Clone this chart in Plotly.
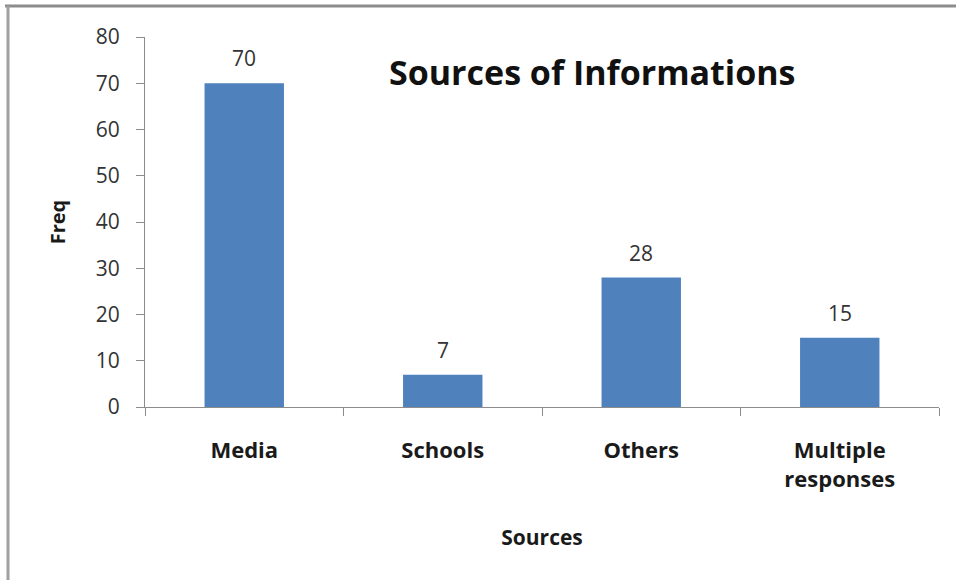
import plotly.graph_objects as go

categories = ["Media", "Schools", "Others", "Multiple<br>responses"]
freq = [70, 7, 28, 15]
y_ticks = [0, 10, 20, 30, 40, 50, 60, 70, 80]

FONT = "Open Sans"

fig = go.Figure()
fig.add_trace(go.Bar(
    x=categories, y=freq, width=0.4,
    marker=dict(color="#4F81BD", line=dict(width=0)),
    showlegend=False, hoverinfo="x+y",
))

for c, v in zip(categories, freq):
    fig.add_annotation(x=c, y=v, text=str(v), showarrow=False,
                       yanchor="bottom", yshift=9,
                       font=dict(family=FONT, size=21, color="#333"))

fig.add_annotation(xref="paper", yref="paper", x=(592 - 145) / 794, y=1 - (72 - 37) / 370,
                   text="<b>Sources of Informations</b>", showarrow=False,
                   xanchor="center", yanchor="middle",
                   font=dict(family=FONT, size=34, color="#111"))

# outer frame (top and left edges visible in the reference)
fig.add_shape(type="line", xref="paper", yref="paper",
              x0=-140/794, x1=(960-145)/794, y0=1 + 31/370, y1=1 + 31/370,
              line=dict(color="#8c8c8c", width=3))
fig.add_shape(type="line", xref="paper", yref="paper",
              x0=-137/794, x1=-137/794, y0=-180/370, y1=1 + 31/370,
              line=dict(color="#a0a0a0", width=3))

fig.update_layout(
    width=956, height=580,
    margin=dict(l=145, r=17, t=37, b=173),
    paper_bgcolor="white", plot_bgcolor="white",
    font=dict(family=FONT, color="#333"),
    xaxis=dict(
        type="category", range=[-0.5, 3.5],
        showline=True, linecolor="#8c8c8c", linewidth=1,
        ticks="outside", tickson="boundaries", ticklen=8, tickcolor="#8c8c8c",
        showgrid=False, zeroline=False,
        tickfont=dict(family=FONT, size=22, color="#1a1a1a", weight="bold"),
        ticklabelstandoff=24,
        title=dict(text="<b>Sources</b>", font=dict(family=FONT, size=21, color="#1a1a1a"),
                   standoff=38),
    ),
    yaxis=dict(
        range=[0, 80], tickvals=y_ticks,
        showline=True, linecolor="#8c8c8c", linewidth=1,
        ticks="outside", ticklen=8, tickcolor="#8c8c8c",
        showgrid=False, zeroline=False,
        tickfont=dict(family=FONT, size=21, color="#333"),
        ticklabelstandoff=12,
        title=dict(text="<b>Freq</b>", font=dict(family=FONT, size=20, color="#1a1a1a"),
                   standoff=24),
    ),
    bargap=0.6,
)

fig.write_html("out.html", config={"displayModeBar": False},
               post_script="document.body.style.margin='0';")
